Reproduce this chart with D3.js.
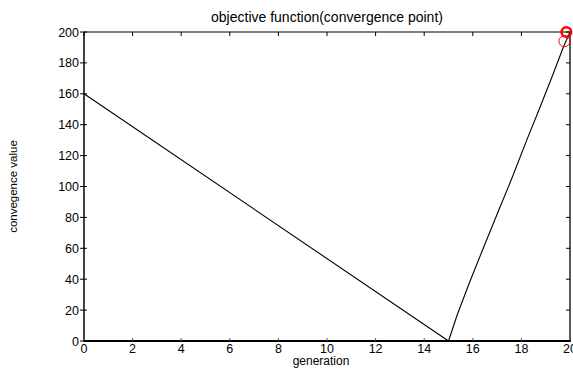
<!DOCTYPE html>
<html><head><meta charset="utf-8">
<script src="https://cdn.jsdelivr.net/npm/d3@7"></script>
<style>body{margin:0;background:#fff}svg{display:block}text{font-family:"Liberation Sans",Arial,sans-serif;fill:#000}</style>
</head><body><svg id="c" width="573" height="373"></svg>
<script>
const generation = [0, 15, 15.36, 15.88, 16.43, 17.05, 17.6, 18.22, 18.77, 19.31, 19.72, 20];
const convergence = [160, 0, 17, 38.5, 60, 84, 105, 130, 151.5, 173, 190, 200];
const markerGen = [19.85, 19.77];
const markerVal = [200, 194];
const markerWidth = [2.5, 1];
const xTicks = [0, 2, 4, 6, 8, 10, 12, 14, 16, 18, 20];
const yTicks = [0, 20, 40, 60, 80, 100, 120, 140, 160, 180, 200];
const title = "objective function(convergence point)";
const xLabel = "generation";
const yLabel = "convegence value";

const svg = d3.select("#c");
const L = 84, R = 570, T = 32, B = 341;
const x = d3.scaleLinear().domain([0, 20]).range([L, R]);
const y = d3.scaleLinear().domain([0, 200]).range([B, T]);

// frame
svg.append("line").attr("x1", L).attr("x2", R).attr("y1", T).attr("y2", T).attr("stroke", "#000").attr("stroke-width", 1);
svg.append("line").attr("x1", R).attr("x2", R).attr("y1", T).attr("y2", B).attr("stroke", "#000").attr("stroke-width", 1.3);
svg.append("line").attr("x1", L).attr("x2", L).attr("y1", T).attr("y2", B+1).attr("stroke", "#000").attr("stroke-width", 1.5);
svg.append("line").attr("x1", L).attr("x2", R+1).attr("y1", B).attr("y2", B).attr("stroke", "#000").attr("stroke-width", 2);

// x ticks
xTicks.forEach(t => {
  svg.append("line").attr("x1", x(t)).attr("x2", x(t)).attr("y1", B).attr("y2", B-3).attr("stroke", "#555").attr("stroke-width", 1);
  svg.append("line").attr("x1", x(t)).attr("x2", x(t)).attr("y1", T).attr("y2", T+4).attr("stroke", "#000").attr("stroke-width", 1);
  svg.append("text").attr("x", x(t)).attr("y", B+11.5).attr("text-anchor", "middle").attr("font-size", 12.5).text(t);
});
// y ticks
yTicks.forEach(t => {
  svg.append("line").attr("x1", L-4).attr("x2", L+3).attr("y1", y(t)).attr("y2", y(t)).attr("stroke", "#000").attr("stroke-width", 1);
  svg.append("line").attr("x1", R).attr("x2", R-4).attr("y1", y(t)).attr("y2", y(t)).attr("stroke", "#000").attr("stroke-width", 1);
  svg.append("text").attr("x", L-5).attr("y", y(t)+4.5).attr("text-anchor", "end").attr("font-size", 12.5).text(t);
});

// line
const line = d3.line().x((d, i) => x(generation[i])).y((d, i) => y(convergence[i]));
svg.append("path").datum(convergence).attr("d", line).attr("fill", "none").attr("stroke", "#000").attr("stroke-width", 1.1).attr("stroke-linejoin", "round");

// markers
markerGen.forEach((g, i) => {
  svg.append("circle").attr("cx", x(g)).attr("cy", y(markerVal[i])).attr("r", i === 0 ? 4.8 : 5.5)
    .attr("fill", "none").attr("stroke", "#f00").attr("stroke-width", markerWidth[i]);
});

// texts
svg.append("text").attr("x", (L+R)/2).attr("y", 22).attr("text-anchor", "middle").attr("font-size", 14).text(title);
svg.append("text").attr("x", (L+R)/2 - 6).attr("y", 365).attr("text-anchor", "middle").attr("font-size", 12).text(xLabel);
svg.append("text").attr("transform", `translate(17,${(T+B)/2}) rotate(-90)`).attr("text-anchor", "middle").attr("font-size", 11.5).text(yLabel);
</script></body></html>
